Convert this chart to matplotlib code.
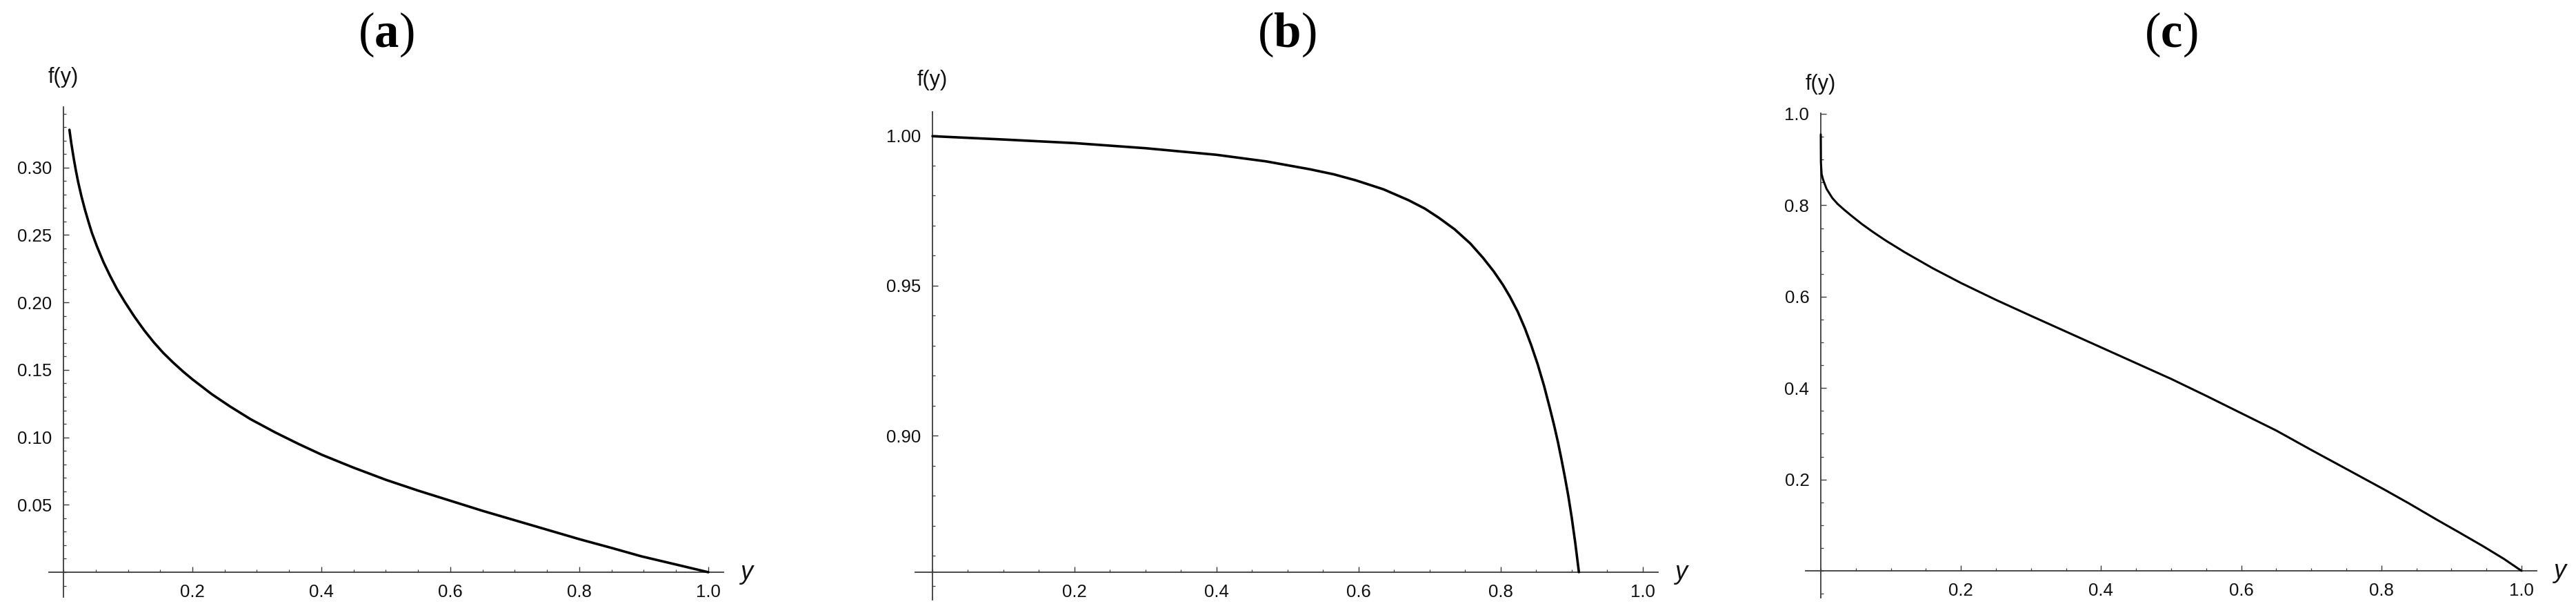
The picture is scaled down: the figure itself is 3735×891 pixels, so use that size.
import matplotlib
matplotlib.use('Agg')
import matplotlib.pyplot as plt
from matplotlib.ticker import FixedLocator, MultipleLocator, FormatStrFormatter

# ---------------- data ----------------
# panel (a)
a_y = [0.0093, 0.012, 0.0157, 0.019, 0.0228, 0.028, 0.0335, 0.039, 0.0442, 0.052,
       0.062, 0.072, 0.083, 0.095, 0.110, 0.125, 0.14, 0.155, 0.17, 0.185,
       0.20, 0.23, 0.258, 0.29, 0.329, 0.365, 0.401, 0.45, 0.50, 0.55,
       0.60, 0.65, 0.70, 0.75, 0.80, 0.85, 0.896, 0.95, 1.0]
a_f = [0.328, 0.3185, 0.3075, 0.2985, 0.2893, 0.2785, 0.2685, 0.2595, 0.2515, 0.2415,
       0.2300, 0.2200, 0.2100, 0.2005, 0.1895, 0.1795, 0.1705, 0.1625, 0.1555, 0.149,
       0.1430, 0.132, 0.123, 0.1135, 0.1035, 0.095, 0.087, 0.0775, 0.0685, 0.0605,
       0.053, 0.0455, 0.0385, 0.0315, 0.0245, 0.018, 0.0118, 0.0057, 0.0]
a_yticks = [0.05, 0.10, 0.15, 0.20, 0.25, 0.30]

# panel (b)
b_y = [0.0, 0.1, 0.2, 0.3, 0.4, 0.47, 0.531, 0.565, 0.596, 0.635, 0.670, 0.693,
       0.713, 0.735, 0.757, 0.775, 0.790, 0.803, 0.813, 0.824, 0.834, 0.843,
       0.852, 0.861, 0.869, 0.875, 0.8806, 0.8855, 0.890, 0.895, 0.900, 0.905,
       0.910]
b_f = [0.9997, 0.9986, 0.9974, 0.9957, 0.9935, 0.9913, 0.9887, 0.9870, 0.9850,
       0.9820, 0.9784, 0.9756, 0.9725, 0.9687, 0.9640, 0.9592, 0.9547, 0.9502,
       0.9462, 0.9412, 0.9357, 0.9300, 0.9237, 0.9165, 0.9092, 0.9035, 0.8977,
       0.8920, 0.8865, 0.8800, 0.8725, 0.8640, 0.8545]
b_yticks = [0.90, 0.95, 1.00]

# panel (c)
c_y = [0.0, 0.0002, 0.0012, 0.0033, 0.0082, 0.0164, 0.024, 0.0328, 0.045, 0.059,
       0.075, 0.092, 0.12, 0.16, 0.20, 0.25, 0.30, 0.40, 0.45, 0.50, 0.55, 0.60,
       0.65, 0.70, 0.75, 0.804, 0.84, 0.879, 0.91, 0.945, 0.975, 1.0]
c_f = [0.955, 0.893, 0.868, 0.856, 0.836, 0.816, 0.803, 0.791, 0.7755, 0.7585,
       0.741, 0.7235, 0.697, 0.662, 0.630, 0.593, 0.558, 0.489, 0.4545, 0.420,
       0.383, 0.345, 0.307, 0.2645, 0.223, 0.178, 0.147, 0.112, 0.085, 0.054,
       0.026, 0.0]
c_yticks = [0.2, 0.4, 0.6, 0.8, 1.0]

x_ticks = [0.2, 0.4, 0.6, 0.8, 1.0]
titles = ['a', 'b', 'c']
y_label = 'f(y)'
x_label = 'y'

# ---------------- styling ----------------
plt.rcParams['font.family'] = ['Liberation Sans', 'DejaVu Sans']
plt.rcParams['mathtext.fontset'] = 'custom'
plt.rcParams['mathtext.bf'] = 'Liberation Serif:bold'
plt.rcParams['mathtext.rm'] = 'Liberation Serif'

W, H = 3735, 891
DPI = 100
fig = plt.figure(figsize=(W / DPI, H / DPI), dpi=DPI)
fig.patch.set_facecolor('white')

AX_COLOR = '#3a3a3a'

panels = [
    dict(x=a_y, f=a_f, yt=a_yticks, fmt='%.2f', ymin=0.01,
         box=(71, 1049, 155, 865), xlim=(-0.02246, 1.02353),
         ylim=(-0.01842, 0.34493), cross=0.0, lw=2.6, fy_off=31),
    dict(x=b_y, f=b_f, yt=b_yticks, fmt='%.2f', ymin=0.01,
         box=(1327, 2404, 162, 869), xlim=(-0.02427, 1.02136),
         ylim=(0.84529, 1.00782), cross=0.8545, lw=2.6, fy_off=33),
    dict(x=c_y, f=c_f, yt=c_yticks, fmt='%.1f', ymin=0.05,
         box=(2618, 3678, 164, 866), xlim=(-0.02165, 1.02165),
         ylim=(-0.0589, 1.00151), cross=0.0, lw=2.2, fy_off=30),
]

for p, t in zip(panels, titles):
    l, r, top, bot = p['box']
    ax = fig.add_axes([l / W, 1 - bot / H, (r - l) / W, (bot - top) / H])
    ax.set_facecolor('none')
    ax.plot(p['x'], p['f'], color='black', lw=p['lw'], solid_capstyle='round',
            solid_joinstyle='round', zorder=5, clip_on=False)
    ax.set_xlim(*p['xlim'])
    ax.set_ylim(*p['ylim'])

    for s in ('top', 'right'):
        ax.spines[s].set_visible(False)
    ax.spines['left'].set_position(('data', 0.0))
    ax.spines['bottom'].set_position(('data', p['cross']))
    for s in ('left', 'bottom'):
        ax.spines[s].set_color(AX_COLOR)
        ax.spines[s].set_linewidth(1.3)

    ax.xaxis.set_major_locator(FixedLocator(x_ticks))
    ax.xaxis.set_minor_locator(MultipleLocator(0.05))
    ax.xaxis.set_major_formatter(FormatStrFormatter('%.1f'))
    ax.yaxis.set_major_locator(FixedLocator(p['yt']))
    ax.yaxis.set_minor_locator(MultipleLocator(p['ymin']))
    ax.yaxis.set_major_formatter(FormatStrFormatter(p['fmt']))

    ax.tick_params(axis='both', which='major', direction='in', length=5.5,
                   width=1.0, color=AX_COLOR, labelsize=18.5, labelcolor='#111111')
    ax.tick_params(axis='both', which='minor', direction='in', length=3,
                   width=0.9, color=AX_COLOR)
    ax.tick_params(axis='x', which='major', pad=12.5)
    ax.tick_params(axis='y', which='major', pad=12)

    # axis labels (f(y) above the vertical axis, y at the end of the horizontal axis)
    ax.annotate(y_label, xy=(0.0, 1.0), xycoords=('data', 'axes fraction'),
                xytext=(0, p['fy_off']), textcoords='offset points',
                ha='center', va='center', fontsize=22, color='#111111')
    ax.annotate(x_label, xy=(1.0, p['cross']), xycoords=('axes fraction', 'data'),
                xytext=(17, -7.5), textcoords='offset points',
                ha='left', va='baseline', fontsize=26, style='italic',
                color='#111111')

    # panel title
    pos = ax.get_position()
    fig.text(pos.x0 + pos.width / 2, 1 - 68 / H, '(' + r'$\mathbf{' + t + '}$' + ')',
             ha='center', va='baseline', fontsize=51, family='Liberation Serif')

fig.savefig('out.png', dpi=DPI, facecolor='white')
